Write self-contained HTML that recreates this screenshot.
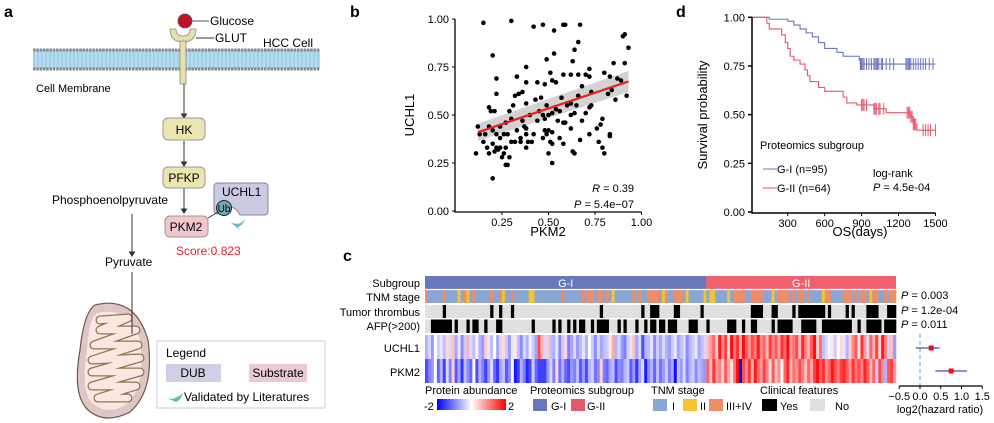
<!DOCTYPE html>
<html><head><meta charset="utf-8"><style>
html,body{margin:0;padding:0;background:#fff;}
svg{display:block;font-family:"Liberation Sans",Arial,sans-serif;}
</style></head><body>
<svg id="fig" width="994" height="423" viewBox="0 0 994 423" xmlns="http://www.w3.org/2000/svg">
<defs>
<pattern id="lip" width="4" height="4" patternUnits="userSpaceOnUse"><rect width="4" height="4" fill="#b8dcef"/><line x1="2" y1="0" x2="2" y2="4" stroke="#8cc3e0" stroke-width="1"/></pattern>
<linearGradient id="abund" x1="0" x2="1" y1="0" y2="0"><stop offset="0" stop-color="#0000ff"/><stop offset="0.5" stop-color="#ffffff"/><stop offset="1" stop-color="#ff0000"/></linearGradient>
</defs>
<!-- Panel a -->
<g>
<text x="4" y="17" font-size="16" font-weight="bold">a</text>
<g>
<rect x="33" y="50" width="287" height="19" fill="url(#lip)"/>
<line x1="33" y1="50" x2="320" y2="50" stroke="#888" stroke-width="3" stroke-dasharray="2.5 0.8"/>
<line x1="33" y1="69" x2="320" y2="69" stroke="#888" stroke-width="3" stroke-dasharray="2.5 0.8"/>
</g>
<g>
<path d="M170 29 Q170 42 183 42 Q196 42 196 29 L190 29 Q190 36 183 36 Q176 36 176 29 Z" fill="#e6e1a8" stroke="#888" stroke-width="0.8"/>
<rect x="180" y="41" width="6" height="43" fill="#e6e1a8" stroke="#888" stroke-width="0.8"/>
</g>
<circle cx="185" cy="21" r="7" fill="#c0102a" stroke="#555" stroke-width="0.8"/>
<line x1="192" y1="21" x2="209" y2="21" stroke="#555"/>
<text x="210" y="25" font-size="12">Glucose</text>
<line x1="196" y1="38" x2="214" y2="38" stroke="#333"/>
<text x="215" y="42" font-size="12">GLUT</text>
<text x="263" y="47" font-size="12">HCC Cell</text>
<text x="36" y="92" font-size="11">Cell Membrane</text>
<g stroke="#333" fill="#333">
<line x1="184" y1="84" x2="184" y2="115"/><path d="M181.5 114 L186.5 114 L184 118 Z"/>
<line x1="184" y1="141" x2="184" y2="163"/><path d="M181.5 162 L186.5 162 L184 166 Z"/>
<line x1="184" y1="188" x2="184" y2="210"/><path d="M181.5 209 L186.5 209 L184 213 Z"/>
<line x1="132" y1="214" x2="132" y2="254"/><path d="M129.5 252 L134.5 252 L132 256 Z"/>
</g>
<rect x="163" y="118" width="42" height="22" rx="5" fill="#ebe6b0" stroke="#999"/>
<text x="184" y="134" font-size="12" text-anchor="middle">HK</text>
<rect x="163" y="167" width="42" height="21" rx="5" fill="#ebe6b0" stroke="#999"/>
<text x="184" y="182" font-size="12" text-anchor="middle">PFKP</text>
<text x="52" y="204" font-size="12">Phosphoenolpyruvate</text>
<path d="M218 183 L264 183 Q268 183 268 187 L268 211 Q268 215 264 215 L240 215 Q234 203 225 210 L218 214 Q214 214 214 210 L214 187 Q214 183 218 183 Z" fill="#cbcae4" stroke="#888"/>
<text x="222" y="196" font-size="12">UCHL1</text>
<rect x="165" y="216" width="43" height="21" rx="5" fill="#f2c7cb" stroke="#999"/>
<text x="186" y="231" font-size="12" text-anchor="middle">PKM2</text>
<line x1="208" y1="218" x2="218" y2="212" stroke="#333"/>
<circle cx="224" cy="208" r="7.5" fill="#6fa5b8" stroke="#222"/>
<text x="224" y="212" font-size="10" text-anchor="middle">Ub</text>
<path d="M230 222 Q240 227 246 218 Q242 226 238 227 L240 230 Z" fill="#5fbdb8"/>
<text x="176" y="255" font-size="12" fill="#e8202a">Score:0.823</text>
<text x="105" y="266" font-size="12">Pyruvate</text>
<g>
<path d="M95 305 Q135 295 148 340 Q155 390 130 412 Q105 425 88 410 Q72 395 80 350 Q84 312 95 305 Z" fill="#dfc5c4" stroke="#6b5a45" stroke-width="1.2"/>
<path d="M97 313 Q130 306 140 340 Q146 385 127 404 Q108 416 93 404 Q80 392 87 350 Q89 318 97 313 Z" fill="#fbe6e2" stroke="none"/>
<path d="M100 320 L128 318 L100 330 L136 330 L94 345 L138 345 L92 360 L140 358 L92 372 L140 372 L92 386 L136 386 L98 398 L128 398" fill="none" stroke="#8a7650" stroke-width="9" stroke-linejoin="round" stroke-linecap="round"/>
<path d="M100 320 L128 318 L100 330 L136 330 L94 345 L138 345 L92 360 L140 358 L92 372 L140 372 L92 386 L136 386 L98 398 L128 398" fill="none" stroke="#fbe6e2" stroke-width="6.5" stroke-linejoin="round" stroke-linecap="round"/>
<line x1="132" y1="272" x2="132" y2="334" stroke="#333"/>
</g>
<g>
<rect x="157" y="341" width="168" height="67" fill="#fff" stroke="#ccc"/>
<text x="166" y="357" font-size="12">Legend</text>
<rect x="166" y="364" width="55" height="18" fill="#cfd0e6"/>
<text x="193" y="377" font-size="12" text-anchor="middle">DUB</text>
<rect x="249" y="364" width="58" height="18" fill="#ecc9d2"/>
<text x="278" y="377" font-size="12" text-anchor="middle">Substrate</text>
<path d="M166 398 Q174 401 183 393 Q180 401 176 402 Z" fill="#5fbdb8"/>
<text x="184" y="401" font-size="12">Validated by Literatures</text>
</g>
</g>
<!-- Panel b -->
<g id="pb">
<text x="350" y="17" font-size="16" font-weight="bold">b</text>
<text transform="translate(414,115) rotate(-90)" font-size="13" text-anchor="middle">UCHL1</text>
<text x="548" y="236" font-size="13" text-anchor="middle">PKM2</text>
<text x="634" y="192" font-size="11" text-anchor="end"><tspan font-style="italic">R</tspan> = 0.39</text>
<text x="634" y="208" font-size="11" text-anchor="end"><tspan font-style="italic">P</tspan> = 5.4e−07</text>
</g>
<!-- Panel d -->
<g id="pd">
<text x="676" y="17" font-size="16" font-weight="bold">d</text>
<text transform="translate(707,115) rotate(-90)" font-size="13" text-anchor="middle">Survival probability</text>
<text x="860" y="236" font-size="13" text-anchor="middle">OS(days)</text>
<text x="760" y="149" font-size="11">Proteomics subgroup</text>
<line x1="763" y1="169" x2="777" y2="169" stroke="#6a77b8"/>
<text x="777" y="173" font-size="11">G-I (n=95)</text>
<line x1="763" y1="188" x2="777" y2="188" stroke="#e8566c"/>
<text x="777" y="192" font-size="11">G-II (n=64)</text>
<text x="873" y="177" font-size="11">log-rank</text>
<text x="873" y="191" font-size="11"><tspan font-style="italic">P</tspan> = 4.5e-04</text>
</g>
<!-- Panel c -->
<g id="pc">
<text x="343" y="261" font-size="16" font-weight="bold">c</text>
<g font-size="11" text-anchor="end">
<text x="420" y="287">Subgroup</text>
<text x="420" y="301">TNM stage</text>
<text x="420" y="316">Tumor thrombus</text>
<text x="420" y="330">AFP(&gt;200)</text>
<text x="420" y="352">UCHL1</text>
<text x="420" y="376">PKM2</text>
</g>
<g font-size="11">
<text x="425" y="394">Protein abundance</text>
<text x="424" y="410">-2</text>
<rect x="437" y="399" width="69" height="11" fill="url(#abund)"/>
<text x="508" y="410">2</text>
<text x="530" y="394">Proteomics subgroup</text>
<rect x="533" y="399" width="14" height="12" fill="#6a77b8"/>
<text x="551" y="410">G-I</text>
<rect x="571" y="399" width="14" height="12" fill="#e35a6a"/>
<text x="587" y="410">G-II</text>
<text x="651" y="394">TNM stage</text>
<rect x="653" y="399" width="14" height="12" fill="#89a6d4"/>
<text x="672" y="410">I</text>
<rect x="683" y="399" width="14" height="12" fill="#f5c232"/>
<text x="700" y="410">II</text>
<rect x="709" y="399" width="14" height="12" fill="#f08c68"/>
<text x="726" y="410">III+IV</text>
<text x="760" y="394">Clinical features</text>
<rect x="762" y="399" width="15" height="12" fill="#000"/>
<text x="780" y="410">Yes</text>
<rect x="810" y="399" width="15" height="12" fill="#e0e0e0"/>
<text x="835" y="410">No</text>
</g>
<g font-size="11">
<text x="901" y="299"><tspan font-style="italic">P</tspan> = 0.003</text>
<text x="901" y="314"><tspan font-style="italic">P</tspan> = 1.2e-04</text>
<text x="901" y="328"><tspan font-style="italic">P</tspan> = 0.011</text>
</g>
<text x="940" y="413" font-size="11" text-anchor="middle">log2(hazard ratio)</text>
</g>
</svg>
<script>
// ---------- Panel b data ----------
const pkm2Vals=[0.15,0.30,0.42,0.47,0.58,0.59,0.53,0.67,0.91,0.90,0.93,0.66,0.20,0.53,0.49,0.64,0.63,0.91,0.85,0.38,0.51,0.72,0.58,0.62,0.66,0.70,0.80,0.33,0.22,0.38,0.44,0.52,0.54,0.48,0.72,0.83,0.87,0.89,0.68,0.73,0.82,0.84,0.36,0.34,0.32,0.22,0.57,0.66,0.43,0.46,0.38,0.49,0.92,0.86,0.18,0.19,0.21,0.29,0.31,0.40,0.45,0.47,0.50,0.52,0.54,0.56,0.60,0.62,0.65,0.72,0.73,0.70,0.62,0.68,0.58,0.59,0.55,0.48,0.44,0.36,0.30,0.27,0.24,0.18,0.12,0.37,0.38,0.33,0.48,0.50,0.52,0.49,0.42,0.38,0.35,0.30,0.28,0.26,0.24,0.22,0.20,0.16,0.13,0.15,0.17,0.20,0.22,0.24,0.27,0.26,0.23,0.21,0.18,0.11,0.25,0.29,0.27,0.28,0.20,0.32,0.35,0.39,0.41,0.38,0.47,0.51,0.52,0.50,0.52,0.56,0.58,0.63,0.64,0.67,0.72,0.77,0.79,0.80,0.83,0.83,0.79,0.76,0.62,0.64,0.78];
const uchl1Vals=[0.98,0.99,0.96,0.97,0.97,0.97,0.94,0.97,0.92,0.91,0.85,0.88,0.81,0.82,0.79,0.84,0.78,0.77,0.77,0.75,0.72,0.74,0.71,0.71,0.71,0.71,0.72,0.70,0.69,0.67,0.67,0.68,0.67,0.66,0.70,0.70,0.69,0.68,0.65,0.62,0.61,0.63,0.62,0.61,0.60,0.61,0.59,0.60,0.58,0.59,0.56,0.55,0.60,0.58,0.54,0.52,0.52,0.52,0.55,0.50,0.52,0.50,0.50,0.51,0.53,0.52,0.55,0.56,0.55,0.54,0.55,0.51,0.50,0.47,0.46,0.46,0.47,0.48,0.47,0.47,0.48,0.46,0.44,0.44,0.44,0.44,0.43,0.42,0.42,0.42,0.41,0.40,0.40,0.40,0.38,0.36,0.40,0.40,0.38,0.40,0.42,0.40,0.40,0.36,0.33,0.35,0.33,0.33,0.33,0.30,0.32,0.31,0.30,0.30,0.28,0.28,0.24,0.24,0.17,0.36,0.36,0.36,0.36,0.33,0.38,0.36,0.35,0.30,0.25,0.38,0.35,0.31,0.30,0.37,0.40,0.36,0.33,0.30,0.40,0.39,0.48,0.43,0.43,0.51,0.45];
const fitLine=[[0.12,0.41],[0.93,0.675]];
const bTicks=[0,0.25,0.5,0.75,1];
// ---------- Panel d data ----------
const kmG1=[[0,1],[150,0.99],[300,0.98],[350,0.96],[400,0.94],[450,0.92],[500,0.90],[550,0.87],[600,0.84],[700,0.82],[750,0.80],[880,0.78],[890,0.76],[1500,0.76]];
const kmG2=[[0,1],[130,0.97],[150,0.94],[250,0.91],[280,0.87],[300,0.84],[320,0.80],[350,0.78],[400,0.76],[440,0.73],[460,0.70],[480,0.67],[550,0.64],[600,0.62],[750,0.59],[780,0.56],[860,0.55],[1000,0.53],[1100,0.51],[1300,0.49],[1320,0.45],[1350,0.42],[1500,0.42]];
const censorG1=[890,895,900,910,920,940,960,980,1000,1010,1020,1030,1040,1060,1070,1100,1130,1160,1260,1270,1280,1290,1300,1320,1340,1360,1380,1400,1420,1450,1480];
const censorG2=[900,910,920,940,1000,1010,1020,1040,1050,1080,1270,1280,1290,1300,1310,1320,1330,1340,1400,1420,1440,1460,1500];
const dXTicks=[300,600,900,1200,1500];
const dYTicks=[0,0.25,0.5,0.75,1];
// ---------- Panel c data ----------
const tnmG1=[3,1,1,1,1,1,3,1,1,1,1,2,1,3,2,1,3,1,1,1,1,1,3,1,1,3,2,1,1,3,1,1,1,1,1,2,2,1,1,1,1,1,1,1,1,1,3,1,1,1,1,1,1,3,1,3,3,1,3,3,1,3,1,2,1,1,1,1,1,1,3,1,3,1,1,3,3,3,3,1,2,3,1,1,3,3,3,1,2,1,1,1,1,1,2];
const tnmG2=[1,2,2,1,1,1,1,2,1,3,3,3,3,1,1,3,3,3,3,1,1,1,2,1,3,3,3,3,1,3,1,3,3,1,3,1,1,1,1,2,3,3,1,1,1,1,3,3,3,1,3,1,3,3,1,2,3,3,1,1,3,1,3,3];
const thrombusYesG1=[6,22,25,29,59,73,76,77,78,84,85,93];
const thrombusYesG2=[15,16,17,18,22,23,29,31,32,33,34,35,36,37,38,39,41,47,49,54,55,56,57,61,62,63];
const afpYesG1=[2,3,4,5,6,7,8,10,14,16,17,20,24,25,36,43,45,48,50,52,53,56,58,59,60,61,65,67,71,74,76,77,79,80,82,83,84,89,90,91];
const afpYesG2=[0,7,8,9,12,15,16,22,24,25,26,27,28,32,33,34,35,36,39,40,41,42,43,44,45,46,47,48,51,54,55,56,57,58,60,61,62,63];
const uchl1G1=[-0.6,-0.3,-0.8,0.0,-0.4,-0.2,-0.5,0.3,-0.3,0.5,-0.7,-0.2,-0.9,-0.4,0.6,-0.3,-0.5,0.1,-0.6,-0.8,0.4,-0.2,-0.5,0.0,-0.7,-0.3,0.3,-0.4,-0.8,-0.2,0.2,-0.5,-0.9,-0.3,-0.6,-0.1,-0.4,-0.7,1.4,0.6,-0.3,0.4,-0.5,-0.6,-0.2,-0.9,-0.4,0.3,-1.0,-0.7,-0.3,-0.8,-0.5,-0.2,-0.6,0.0,-0.4,-0.9,-0.3,-0.7,-0.5,-0.4,0.2,0.7,-0.6,-0.3,-0.8,-1.0,-0.4,-0.2,0.5,-0.7,-0.3,-1.4,-0.6,-0.5,-0.2,-0.9,-0.4,-0.7,-0.3,-0.6,-0.8,-0.4,-0.2,-0.7,-0.5,-0.3,-0.9,-0.6,-0.4,-0.2,-0.7,-0.5,-0.3];
const pkm2G1=[-1.4,-1.0,-0.8,0.0,-1.2,-0.6,-1.5,-0.3,-1.0,0.4,-1.3,-0.7,-1.6,-0.5,-0.9,-1.2,0.0,-1.4,-0.6,-1.0,-1.5,-0.8,-0.3,-1.2,-1.6,-0.7,-0.5,-1.3,-0.9,0.1,-1.8,-1.5,-0.6,-1.0,-1.7,-1.4,-0.4,-1.2,-1.5,-1.5,-1.5,-0.8,-0.3,-1.0,0.3,-1.1,-0.6,-1.2,-1.4,-0.8,-1.0,-0.5,-1.3,-0.8,-1.4,-0.6,-0.4,-1.1,-0.9,0.4,-1.0,-1.2,-0.7,-0.5,-1.4,-0.9,-1.0,-0.6,-0.4,-1.3,-0.8,-1.6,-0.7,-0.3,-1.8,-0.9,-0.6,-1.2,-0.5,-1.1,-0.8,-0.4,-1.0,-0.7,-1.9,-0.5,-0.8,-0.3,-1.0,-0.6,-0.4,-0.9,-0.5,-0.7,-0.8];
const uchl1G2=[0.5,0.8,1.2,0.4,1.8,0.9,1.5,0.3,1.9,1.1,1.6,0.7,1.9,1.3,0.8,1.4,1.1,1.8,0.9,1.2,0.6,1.5,1.0,1.3,0.7,1.6,1.2,1.9,0.8,1.1,1.4,0.5,1.7,1.0,0.6,1.3,1.9,0.4,1.1,-0.5,-0.3,-0.1,0.2,-0.4,0.0,0.3,-0.2,-0.6,0.4,0.9,1.3,0.2,1.6,0.8,-0.3,1.2,0.6,1.5,0.3,1.8,1.0,-0.4,0.5,-0.8];
const pkm2G2=[1.2,0.5,1.6,0.8,1.0,0.4,1.3,0.7,0.2,1.1,1.9,-2.0,1.4,0.9,1.6,0.6,1.8,1.2,0.8,1.5,1.0,0.3,1.3,0.5,0.9,0.0,1.2,1.7,0.6,1.1,0.8,1.4,1.0,0.5,1.2,0.7,1.5,1.9,1.3,1.6,0.9,1.2,1.8,1.4,1.0,1.5,1.7,1.3,0.8,1.6,1.1,1.4,1.0,1.7,1.3,0.6,1.2,-0.4,1.4,0.9,-0.6,1.3,1.5,0.8];
const forestGenes=["UCHL1","PKM2"];
const forestHR=[0.27,0.75];
const forestLo=[-0.1,0.37];
const forestHi=[0.47,1.13];
const forestTicks=[-0.5,0,0.5,1,1.5];

const NS="http://www.w3.org/2000/svg";
function mk(tag,attrs,parent){const e=document.createElementNS(NS,tag);for(const k in attrs)e.setAttribute(k,attrs[k]);parent.appendChild(e);return e;}

// ----- Panel b -----
(function(){
 const g=document.getElementById('pb');
 const bx=v=>455.5+v*186, by=v=>211-v*192;
 const band=mk('path',{d:`M${bx(0.12)} ${by(0.455)} L${bx(0.93)} ${by(0.73)} L${bx(0.93)} ${by(0.62)} L${bx(0.12)} ${by(0.365)} Z`,fill:'#c8c8c8',opacity:'0.8'},g);
 
 
 for(let i=0;i<pkm2Vals.length;i++){
  const c=mk('circle',{cx:bx(pkm2Vals[i]),cy:by(uchl1Vals[i]),r:2.3,fill:'#000'},g);
  
  
 }
 const fl=mk('line',{x1:bx(fitLine[0][0]),y1:by(fitLine[0][1]),x2:bx(fitLine[1][0]),y2:by(fitLine[1][1]),stroke:'#e8231f','stroke-width':2.2},g);
 
 
 const ax=mk('path',{d:`M455 ${by(1)} L455 212 L${bx(1)} 212`,fill:'none',stroke:'#000','stroke-width':1.3},g);
 
 
 bTicks.forEach(t=>{
  mk('line',{x1:452,x2:455,y1:by(t),y2:by(t),stroke:'#000'},g);
  const ty=mk('text',{x:449,y:by(t)+4,'font-size':11,'text-anchor':'end'},g);ty.textContent=t.toFixed(2);
  
  
  if(t>0){
   mk('line',{x1:bx(t),x2:bx(t),y1:212,y2:215,stroke:'#000'},g);
   const tx=mk('text',{x:bx(t),y:226,'font-size':11,'text-anchor':'middle'},g);tx.textContent=t.toFixed(2);
   
   
  }
 });
})();

// ----- Panel d -----
(function(){
 const g=document.getElementById('pd');
 const dx=v=>750.8+v*0.1231, dy=v=>212-v*194.7;
 function stepPath(pts){let d=`M${dx(pts[0][0])} ${dy(pts[0][1])}`;for(let i=1;i<pts.length;i++){d+=` H${dx(pts[i][0])} V${dy(pts[i][1])}`;}return d;}
 function valAt(pts,t){let v=1;for(const p of pts){if(p[0]<=t)v=p[1];}return v;}
 [[kmG1,censorG1,'#6a77b8','g1'],[kmG2,censorG2,'#e8566c','g2']].forEach(([pts,cens,col,nm])=>{
  const p=mk('path',{d:stepPath(pts),fill:'none',stroke:col,'stroke-width':1.1},g);
  
  
  cens.forEach(t=>{const y=dy(valAt(pts,t));const l=mk('line',{x1:dx(t),x2:dx(t),y1:y-6,y2:y+6,stroke:col,'stroke-width':1},g);
   
   });
 });
 const ax=mk('path',{d:`M752 ${dy(1)} L752 213 L${dx(1500)} 213`,fill:'none',stroke:'#000','stroke-width':1.5},g);
 
 
 dYTicks.forEach(t=>{mk('line',{x1:748,x2:752,y1:dy(t),y2:dy(t),stroke:'#000','stroke-width':1.5},g);
  const ty=mk('text',{x:745,y:dy(t)+4,'font-size':11,'text-anchor':'end'},g);ty.textContent=t.toFixed(2);
  
  });
 dXTicks.forEach(t=>{mk('line',{x1:dx(t),x2:dx(t),y1:213,y2:216,stroke:'#000'},g);
  const tx=mk('text',{x:dx(t),y:227,'font-size':11,'text-anchor':'middle'},g);tx.textContent=t;
  
  });
})();

// ----- Panel c -----
(function(){
 const g=document.getElementById('pc');
 const x0=425,x1=896,n1=tnmG1.length,n=tnmG1.length+tnmG2.length,w=(x1-x0)/n;
 const cx=i=>x0+i*w;
 const tnmCol={1:'#89a6d4',2:'#f5c232',3:'#f08c68'};
 function heat(v){v=Math.max(-2,Math.min(2,v))/2;let r,gg,b;if(v<0){r=gg=Math.round(255*(1+v));b=255;}else{r=255;gg=b=Math.round(255*(1-v));}return `rgb(${r},${gg},${b})`;}
 const sg1=mk('rect',{x:x0,y:276,width:cx(n1)-x0,height:13,fill:'#6a77b8'},g);
 
 
 const sg2=mk('rect',{x:cx(n1),y:276,width:x1-cx(n1),height:13,fill:'#f0606f'},g);
 
 
 const t1=mk('text',{x:(x0+cx(n1))/2,y:287,'font-size':11,fill:'#fff','text-anchor':'middle'},g);t1.textContent='G-I';
 
 
 const t2=mk('text',{x:(cx(n1)+x1)/2,y:287,'font-size':11,fill:'#fff','text-anchor':'middle'},g);t2.textContent='G-II';
 
 
 const tnm=tnmG1.concat(tnmG2), uc=uchl1G1.concat(uchl1G2), pk=pkm2G1.concat(pkm2G2);
 const thr=new Set(thrombusYesG1.concat(thrombusYesG2.map(i=>i+n1)));
 const afp=new Set(afpYesG1.concat(afpYesG2.map(i=>i+n1)));
 const bg1=mk('rect',{x:x0,y:305,width:x1-x0,height:13,fill:'#e0e0e0'},g);
 
 
 const bg2=mk('rect',{x:x0,y:319.5,width:x1-x0,height:13.5,fill:'#e0e0e0'},g);
 
 
 for(let i=0;i<n;i++){
  const a=mk('rect',{x:cx(i),y:290,width:w+0.3,height:13,fill:tnmCol[tnm[i]]},g);
  
  
  if(thr.has(i)){const b=mk('rect',{x:cx(i),y:305,width:w+0.3,height:13,fill:'#000'},g);
   
   }
  if(afp.has(i)){const b=mk('rect',{x:cx(i),y:319.5,width:w+0.3,height:13.5,fill:'#000'},g);
   
   }
  const u=mk('rect',{x:cx(i),y:335,width:w+0.3,height:24,fill:heat(uc[i])},g);
  
  
  const p=mk('rect',{x:cx(i),y:359,width:w+0.3,height:24,fill:heat(pk[i])},g);
  
  
 }
 [289.5,304,318.7,334].forEach(y=>{mk('line',{x1:x0,x2:x1,y1:y,y2:y,stroke:'#fff','stroke-width':1.2},g);});
 const fx=v=>920+v*41.5, fyArr=[348,371];
 const dl=mk('line',{x1:fx(0),x2:fx(0),y1:334,y2:386,stroke:'#4aa3df','stroke-dasharray':'4 3'},g);
 
 
 forestGenes.forEach((gn,i)=>{
  const y=fyArr[i];
  const l=mk('line',{x1:fx(forestLo[i]),x2:fx(forestHi[i]),y1:y,y2:y,stroke:'#5a3fc0','stroke-width':1.2},g);
  
  
  const r=mk('rect',{x:fx(forestHR[i])-2.5,y:y-2.5,width:5,height:5,fill:'#e8101a'},g);
  
  
 });
 const fa=mk('line',{x1:fx(-0.5),x2:fx(1.5),y1:386,y2:386,stroke:'#000','stroke-width':1.2},g);
 
 
 forestTicks.forEach(t=>{mk('line',{x1:fx(t),x2:fx(t),y1:386,y2:389,stroke:'#000'},g);
  const tx=mk('text',{x:fx(t),y:400,'font-size':11,'text-anchor':'middle'},g);tx.textContent=(t<0?'−':'')+Math.abs(t).toFixed(1);
  
  });
})();
</script>
</body></html>
